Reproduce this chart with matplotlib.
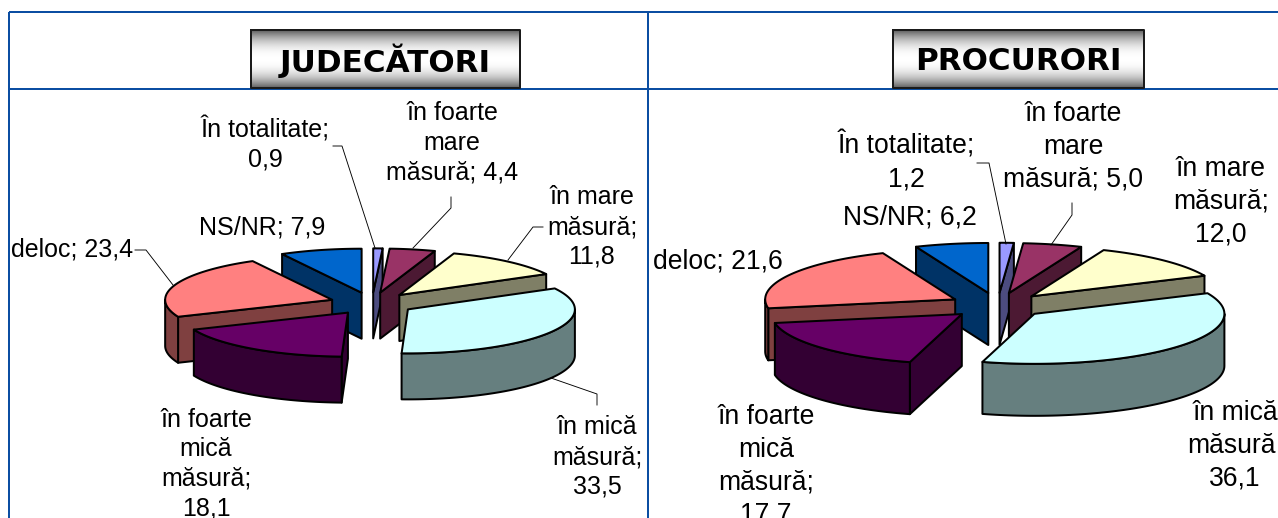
import numpy as np
import matplotlib
matplotlib.use("Agg")
import matplotlib.pyplot as plt

# ---- data ----
labels_left = ["În totalitate;\n0,9", "în foarte\nmare\nmăsură; 4,4", "în mare\nmăsură;\n11,8",
               "în mică\nmăsură;\n33,5", "în foarte\nmică\nmăsură;\n18,1", "deloc; 23,4", "NS/NR; 7,9"]
labels_right = ["În totalitate;\n1,2", "în foarte\nmare\nmăsură; 5,0", "în mare\nmăsură;\n12,0",
                "în mică\nmăsură;\n36,1", "în foarte\nmică\nmăsură;\n17,7", "deloc; 21,6", "NS/NR; 6,2"]
values_left = [0.9, 4.4, 11.8, 33.5, 18.1, 23.4, 7.9]
values_right = [1.2, 5.0, 12.0, 36.1, 17.7, 21.6, 6.2]
title_left = "JUDECĂTORI"
title_right = "PROCURORI"
top_colors = ["#9999FF", "#993366", "#FFFFCC", "#CCFFFF", "#660066", "#FF8080", "#0066CC"]
side_colors = ["#4C4C7F", "#4C1933", "#7F7F66", "#667F7F", "#330033", "#7F4040", "#003366"]
label_pos_left = [(265, 144), (452, 143), (592, 227), (597, 457), (206, 464), (72, 250), (262, 227)]
label_pos_right = [(906, 162), (1073, 147), (1221, 202), (1235, 446), (766, 466), (718, 262), (910, 218)]
leaders_left = [[(333, 146), (342, 146), (375, 248)], [(451, 197), (451, 208), (413, 248)],
                [(543, 227), (533, 227), (508, 260)], [(597, 405), (597, 394), (551, 378)],
                [(135, 250), (146, 250), (173, 285)]]
leaders_right = [[(977, 163), (989, 163), (1006, 244)], [(1072, 203), (1072, 215), (1051, 245)]]

BLUE = "#0B4EA2"
W, H = 1278, 518
plt.rcParams['font.family'] = ['Liberation Sans', 'DejaVu Sans']
fig = plt.figure(figsize=(W / 100, H / 100), dpi=100)
ax = fig.add_axes([0, 0, 1, 1])
ax.set_axis_off()
PX = 72 / 100


def pie3d(values, cx, cy, rx, ry, explode, depth):
    total = sum(values)
    edges = np.cumsum([0] + list(values)) / total * 2 * np.pi
    order = [6, 0, 1, 2, 5, 3, 4]  # back to front
    for z, i in enumerate(order):
        a0, a1 = edges[i], edges[i + 1]
        mid = (a0 + a1) / 2
        ax0 = cx + explode * rx * np.sin(mid)
        ay0 = cy - explode * ry * np.cos(mid)
        ang = np.linspace(a0, a1, 90)
        xs = ax0 + rx * np.sin(ang)
        ys = ay0 - ry * np.cos(ang)
        zo = 5 + z
        kw = dict(edgecolor="black", linewidth=2 * PX, joinstyle="round", zorder=zo,
                  facecolor=side_colors[i])
        # radial walls
        if np.sin(a0) < -1e-6:
            ax.fill([ax0, xs[0], xs[0], ax0], [ay0, ys[0], ys[0] + depth, ay0 + depth], **kw)
        if np.sin(a1) > 1e-6:
            ax.fill([ax0, xs[-1], xs[-1], ax0], [ay0, ys[-1], ys[-1] + depth, ay0 + depth], **kw)
        # outer wall (front half of the rim)
        lo, hi = max(a0, np.pi / 2), min(a1, 3 * np.pi / 2)
        if hi > lo:
            b = np.linspace(lo, hi, 80)
            bx = ax0 + rx * np.sin(b)
            by = ay0 - ry * np.cos(b)
            ax.fill(np.r_[bx, bx[::-1]], np.r_[by, by[::-1] + depth], **kw)
        # top face
        ax.fill(np.r_[ax0, xs], np.r_[ay0, ys], facecolor=top_colors[i], edgecolor="black",
                linewidth=2 * PX, joinstyle="round", zorder=zo + 0.5)


def title_box(text, x0, x1, y0, y1, cyt):
    t = np.linspace(0, 1, 60)
    g = np.abs(2 * t - 1) ** 2.2
    shade = 1 - 0.62 * g
    ax.imshow(shade[:, None], cmap="gray", vmin=0, vmax=1, extent=(x0, x1, y1, y0),
              aspect="auto", zorder=20, interpolation="bilinear")
    ax.plot([x0, x1, x1, x0, x0], [y0, y0, y1, y1, y0], color="#1a1a1a", lw=2 * PX, zorder=21)
    ax.text((x0 + x1) / 2, cyt, text, ha="center", va="center", fontsize=22.3, fontweight="bold",
            family="DejaVu Sans", color="black", zorder=22)


# grid of the table
for xs_, ys_ in [([9, W], [12, 12]), ([9, W], [89, 89]), ([9, 9], [12, H]), ([648, 648], [12, H])]:
    ax.plot(xs_, ys_, color=BLUE, lw=2 * PX, zorder=1, solid_capstyle="butt")

pie3d(values_left, 372, 303.5, 167, 44, 0.253, 46)
pie3d(values_right, 997.7, 305.5, 190, 50, 0.255, 52)

title_box(title_left, 251, 520, 30, 88, 61)
title_box(title_right, 893, 1144, 30, 88, 61)

for lab, (x, y) in zip(labels_left, label_pos_left):
    ax.text(x, y, lab, ha="center", va="center", fontsize=25 * PX, linespacing=1.29, color="black", zorder=30)
for lab, (x, y) in zip(labels_right, label_pos_right):
    ax.text(x, y, lab, ha="center", va="center", fontsize=26.5 * PX, linespacing=1.33, color="black", zorder=30)
for seg in leaders_left + leaders_right:
    ax.plot(*zip(*seg), color="black", lw=0.9 * PX, zorder=29)

ax.set_xlim(0, W)
ax.set_ylim(H, 0)
fig.savefig("out.png", dpi=100, facecolor="white")
